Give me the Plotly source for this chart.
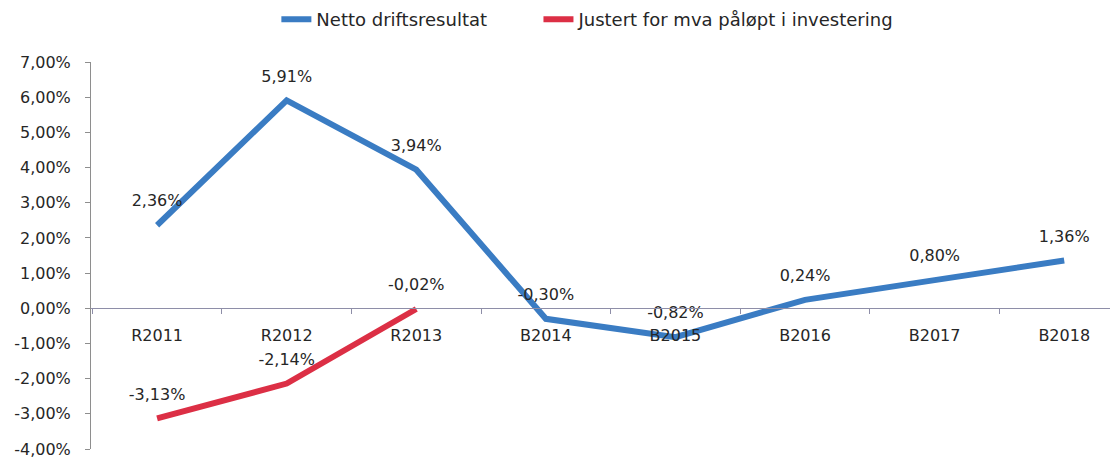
import plotly.graph_objects as go

categories = ["R2011", "R2012", "R2013", "B2014", "B2015", "B2016", "B2017", "B2018"]
netto = [2.36, 5.91, 3.94, -0.30, -0.82, 0.24, 0.80, 1.36]
justert = [-3.13, -2.14, -0.02]
y_ticks = [7, 6, 5, 4, 3, 2, 1, 0, -1, -2, -3, -4]

def fmt(v):
    return f"{v:.2f}".replace(".", ",") + "%"

font_family = "DejaVu Sans"
text_col = "#262626"
fs = 16

fig = go.Figure()
fig.add_trace(go.Scatter(
    x=categories, y=netto, name="Netto driftsresultat",
    mode="lines+markers+text",
    line=dict(color="#3a7cc3", width=6),
    marker=dict(size=22, color="rgba(0,0,0,0)"),
    text=[fmt(v) for v in netto], textposition="top center",
    textfont=dict(family=font_family, size=fs, color=text_col),
    cliponaxis=False, legend="legend",
))
fig.add_trace(go.Scatter(
    x=categories[:len(justert)], y=justert, name="Justert for mva påløpt i investering",
    mode="lines+markers+text",
    line=dict(color="#dc2f45", width=6),
    marker=dict(size=22, color="rgba(0,0,0,0)"),
    text=[fmt(v) for v in justert], textposition="top center",
    textfont=dict(family=font_family, size=fs, color=text_col),
    cliponaxis=False, legend="legend2",
))

ymin, ymax = -4, 7
leg_common = dict(orientation="h", xanchor="left", y=1.11, yref="paper",
                  yanchor="middle", font=dict(size=18), bgcolor="rgba(0,0,0,0)")
# page has an 8px body margin; figure size/margins compensate for it
fig.update_layout(
    width=1110, height=452,
    margin=dict(l=83, r=0, t=54, b=11, autoexpand=False),
    paper_bgcolor="white", plot_bgcolor="white",
    font=dict(family=font_family, size=fs, color=text_col),
    separators=", ",
    showlegend=True,
    legend=dict(x=0.1805, **leg_common),
    legend2=dict(x=0.4357, **leg_common),
    xaxis=dict(
        type="category", range=[-0.51, 7.415],
        anchor="free", position=(0 - ymin) / (ymax - ymin),
        showline=True, linecolor="#8e8ea8", linewidth=1,
        ticks="outside", tickson="boundaries", ticklen=5, tickcolor="#8e8ea8",
        showgrid=False, zeroline=False, automargin=False,
        ticklabelstandoff=13,
        tickfont=dict(family=font_family, size=fs, color=text_col),
    ),
    yaxis=dict(
        range=[ymin, ymax], domain=[0, 1],
        tickvals=y_ticks, ticktext=[fmt(v) for v in y_ticks],
        showline=True, linecolor="#8e8e8e", linewidth=1,
        ticks="outside", ticklen=5, tickcolor="#8e8e8e",
        showgrid=False, zeroline=False, automargin=False,
        ticklabelstandoff=11, ticklabeloverflow="allow",
        tickfont=dict(family=font_family, size=fs, color=text_col),
    ),
)

fig.write_html("out.html")
